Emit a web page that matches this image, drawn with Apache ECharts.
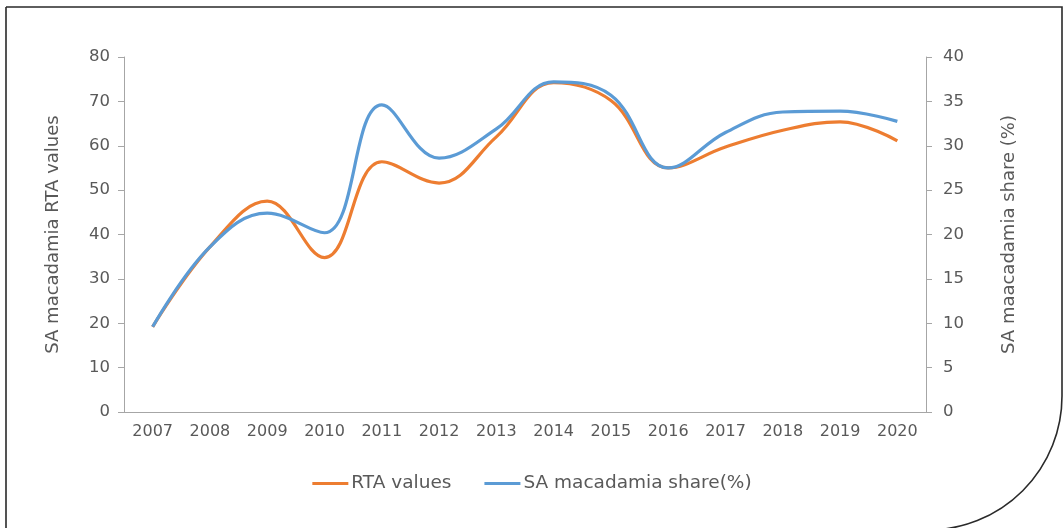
<!DOCTYPE html>
<html>
<head>
<meta charset="utf-8">
<script src="https://cdn.jsdelivr.net/npm/echarts@6/dist/echarts.min.js"></script>
<style>
  html, body { margin: 0; padding: 0; background: #fff; }
  #chart { width: 1064px; height: 528px; }
</style>
</head>
<body>
<div id="chart"></div>
<script>
// data
const years = ['2007', '2008', '2009', '2010', '2011', '2012', '2013', '2014', '2015', '2016', '2017', '2018', '2019', '2020'];
const rtaValues = [19.2, 37.2, 47.5, 34.8, 56.4, 51.6, 62, 74.2, 70.2, 55, 59.7, 63.5, 65.4, 61.1];
const shareValues = [9.6, 18.6, 22.4, 20.2, 34.6, 28.6, 31.9, 37.2, 35.7, 27.5, 31.5, 33.8, 33.9, 32.75];

const grey = '#595959';
const axisGrey = '#a6a6a6';
const font = '"DejaVu Sans", sans-serif';

const chart = echarts.init(document.getElementById('chart'));

const options = {
  animation: false,
  textStyle: { fontFamily: font },
  graphic: [
    {
      type: 'rect',
      shape: { x: 6, y: 7, width: 1056, height: 523, r: [0, 0, 134, 0] },
      style: { fill: 'none', stroke: '#2a2a2a', lineWidth: 1.6 },
      silent: true
    }
  ],
  grid: { left: 124, right: 138, top: 57, height: 355 },
  legend: {
    top: 469,
    left: 'center',
    itemWidth: 36,
    itemHeight: 3,
    itemGap: 33,
    icon: 'rect',
    textStyle: { color: grey, fontSize: 18.5, fontFamily: font, padding: [0, 0, 0, -2] }
  },
  xAxis: {
    type: 'category',
    data: years,
    axisLine: { lineStyle: { color: axisGrey } },
    axisTick: { lineStyle: { color: axisGrey }, length: 6 },
    axisLabel: { color: grey, fontSize: 16, margin: 12 }
  },
  yAxis: [
    {
      type: 'value',
      min: 0, max: 80, interval: 10,
      name: 'SA macadamia RTA values',
      nameLocation: 'middle',
      nameGap: 62,
      nameTextStyle: { color: grey, fontSize: 18 },
      axisLine: { show: true, lineStyle: { color: axisGrey } },
      axisTick: { show: true, lineStyle: { color: axisGrey }, length: 6 },
      axisLabel: { color: grey, fontSize: 16.5, margin: 14 },
      splitLine: { show: false }
    },
    {
      type: 'value',
      min: 0, max: 40, interval: 5,
      name: 'SA maacadamia share (%)',
      nameLocation: 'middle',
      nameGap: 74,
      nameRotate: 90,
      nameTextStyle: { color: grey, fontSize: 18 },
      axisLine: { show: true, lineStyle: { color: axisGrey } },
      axisTick: { show: true, lineStyle: { color: axisGrey }, length: 6 },
      axisLabel: { color: grey, fontSize: 16.5, margin: 17 },
      splitLine: { show: false }
    }
  ],
  series: [
    {
      name: 'RTA values',
      type: 'line',
      data: rtaValues,
      yAxisIndex: 0,
      smooth: 0.4,
      showSymbol: false,
      lineStyle: { color: '#ED7D31', width: 3.2 },
      itemStyle: { color: '#ED7D31' }
    },
    {
      name: 'SA macadamia share(%)',
      type: 'line',
      data: shareValues,
      yAxisIndex: 1,
      smooth: 0.4,
      showSymbol: false,
      lineStyle: { color: '#5B9BD5', width: 3.2 },
      itemStyle: { color: '#5B9BD5' }
    }
  ]
};

chart.setOption(options);
</script>
</body>
</html>
